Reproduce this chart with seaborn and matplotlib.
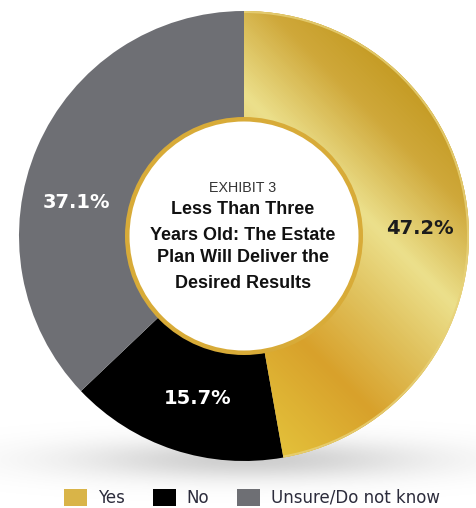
import numpy as np
import matplotlib
matplotlib.use("Agg")
import matplotlib.pyplot as plt
from matplotlib.colors import LinearSegmentedColormap
from matplotlib.patches import Patch, Circle, Wedge
import seaborn as sns

# ---- data ----
categories = ["Yes", "No", "Unsure/Do not know"]
values = [47.2, 15.7, 37.1]
value_labels = ["47.2%", "15.7%", "37.1%"]
title_small = "EXHIBIT 3"
title_lines = ["Less Than Three", "Years Old: The Estate", "Plan Will Deliver the", "Desired Results"]

sns.set_theme(style="white")
plt.rcParams['font.family'] = ['DejaVu Sans']

W, H = 477, 508
fig = plt.figure(figsize=(W / 100, H / 100), dpi=100)
ax = fig.add_axes([0, 0, 1, 1])

cx, cy = 244, H - 236
R, r_in = 225, 118

gold_mid = "#d9b448"
colors = [gold_mid, "#000000", "#6e6f74"]

# shadow under the donut
xx, yy = np.meshgrid(np.linspace(0, W, W), np.linspace(0, H, H))
alpha = 0.42 * np.exp(-((xx - 250) / 175) ** 2 - ((yy - (H - 460)) / 20) ** 2)
shadow = np.zeros((H, W, 4))
shadow[..., :3] = 0.55
shadow[..., 3] = alpha
ax.imshow(shadow, extent=(0, W, 0, H), origin="lower", zorder=0, interpolation="bilinear")

wedges, _ = ax.pie(values, colors=colors, startangle=90, counterclock=False,
                   radius=R, center=(cx, cy),
                   wedgeprops=dict(width=R - r_in, linewidth=0))
for w in wedges:
    w.set_zorder(2)

# gold gradient inside the "Yes" wedge
s = xx + yy - H  # diagonal coordinate (image x - image y)
stops = [(-170, "#e3c03a"), (-40, "#d8a12b"), (60, "#e0c15c"),
         (150, "#ece08c"), (260, "#cfa83a"), (380, "#bd9214")]
smin, smax = stops[0][0], stops[-1][0]
cmap = LinearSegmentedColormap.from_list(
    "gold", [((v - smin) / (smax - smin), c) for v, c in stops])
grad = ax.imshow(np.clip(s, smin, smax), extent=(0, W, 0, H), origin="lower",
                 cmap=cmap, vmin=smin, vmax=smax, zorder=3, interpolation="bilinear")
grad.set_clip_path(wedges[0])

# outer light rim on gold wedge
rim = Wedge((cx, cy), R, wedges[0].theta1, wedges[0].theta2,
            width=2.0, facecolor="#e8d27a", edgecolor="none", zorder=4, alpha=0.8)
ax.add_patch(rim)

# inner gold ring + white centre
ax.add_patch(Circle((cx, cy), r_in + 1, facecolor="#d8ab38", edgecolor="none", zorder=5))
ax.add_patch(Circle((cx, cy), r_in - 3.5, facecolor="white", edgecolor="none", zorder=6))

# value labels
label_pos = [(420, H - 228), (198, H - 398), (76, H - 203)]
label_col = ["#1c1c1c", "white", "white"]
for (x, y), t, c in zip(label_pos, value_labels, label_col):
    ax.text(x, y, t, ha="center", va="center", fontsize=14, fontweight="bold",
            color=c, zorder=7)

# centre title
ax.text(243, H - 188, title_small, ha="center", va="center", fontsize=10.3,
        color="#333333", family="Liberation Sans", zorder=7)
for yi, line in zip([210, 235, 258, 283], title_lines):
    ax.text(243, H - yi, line, ha="center", va="center", fontsize=13,
            fontweight="bold", color="#111111", family="Liberation Sans", zorder=7)

ax.set_xlim(0, W)
ax.set_ylim(0, H)
ax.set_aspect("equal")
ax.axis("off")

handles = [Patch(facecolor=c, edgecolor="none", label=l) for c, l in zip(colors, categories)]
leg = fig.legend(handles=handles, loc="center", bbox_to_anchor=(252 / W, (H - 498) / H),
                 ncol=3, frameon=False, fontsize=12, handlelength=1.38, handleheight=1.14,
                 handletextpad=0.66, columnspacing=1.68, borderpad=0, borderaxespad=0)
for t in leg.get_texts():
    t.set_color("#2c2c3c")

fig.savefig("out.png", dpi=100)
